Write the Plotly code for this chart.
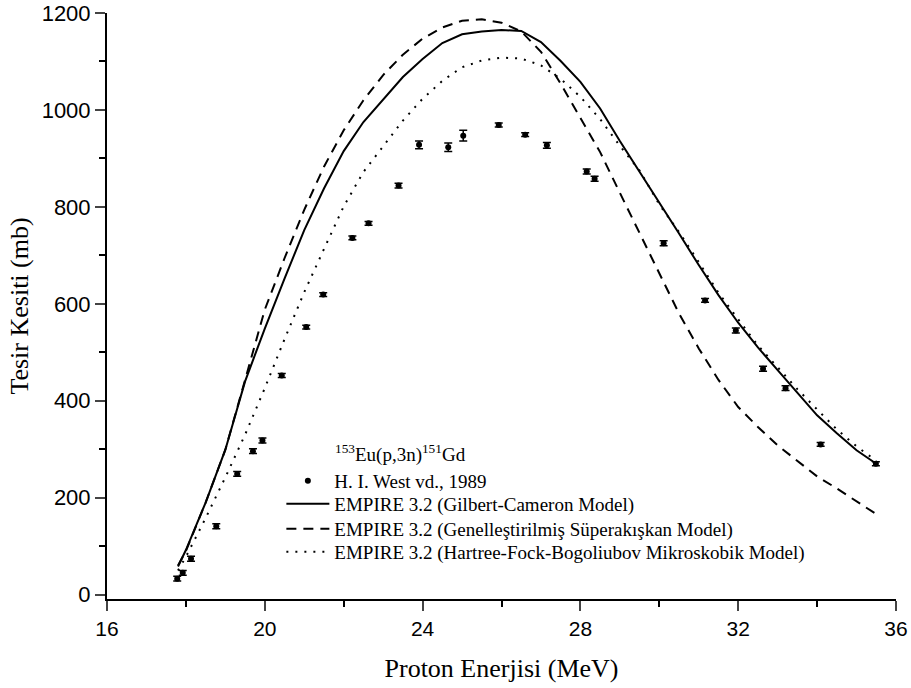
import plotly.graph_objects as go

# H. I. West vd., 1989 - deney verileri
exp_energy = [17.78, 17.92, 18.13, 18.77, 19.30, 19.70, 19.94, 20.43, 21.05, 21.48,
              22.22, 22.63, 23.39, 23.91, 24.65, 25.03, 25.93, 26.60, 27.15, 28.16,
              28.36, 30.11, 31.16, 31.94, 32.63, 33.20, 34.09, 35.49]
exp_xs = [33, 45, 74, 141, 249, 296, 318, 452, 552, 619,
          736, 766, 844, 928, 923, 947, 969, 949, 927, 873,
          858, 725, 607, 545, 466, 426, 310, 270]
exp_err = [5, 5, 5, 5, 5, 5, 5, 4, 4, 4,
           4, 4, 5, 8, 9, 11, 4, 4, 6, 5,
           5, 5, 4, 5, 5, 5, 4, 4]

# EMPIRE 3.2 hesaplamalari
model_energy = [17.8, 18.0, 18.5, 19.0, 19.5, 20.0, 20.5, 21.0, 21.5, 22.0,
                22.5, 23.0, 23.5, 24.0, 24.5, 25.0, 25.5, 26.0, 26.5, 27.0,
                27.5, 28.0, 28.5, 29.0, 29.5, 30.0, 30.5, 31.0, 31.5, 32.0,
                32.5, 33.0, 33.5, 34.0, 34.5, 35.0, 35.5]
gc_xs = [58, 92, 190, 299, 440, 549, 652, 752, 838, 915,
         975, 1022, 1068, 1105, 1138, 1156, 1162, 1165, 1163, 1140,
         1101, 1058, 1003, 936, 873, 809, 745, 680, 618, 561,
         510, 463, 416, 370, 333, 298, 270]
gs_xs = [60, 90, 190, 299, 443, 588, 694, 794, 883, 958,
         1020, 1072, 1114, 1147, 1170, 1184, 1187, 1180, 1162, 1120,
         1054, 985, 913, 829, 746, 660, 580, 508, 443, 387,
         346, 308, 276, 244, 219, 193, 166]
hfb_xs = [50, 78, 158, 242, 330, 426, 527, 624, 713, 801,
          872, 925, 978, 1023, 1060, 1088, 1102, 1108, 1106, 1092,
          1064, 1027, 981, 926, 875, 805, 748, 686, 623, 568,
          514, 469, 424, 382, 341, 306, 276]

serif = 'Liberation Serif'
sans = 'Liberation Sans'

fig = go.Figure()

fig.add_trace(go.Scatter(
    x=exp_energy, y=exp_xs, mode='markers', name='H. I. West vd., 1989',
    marker=dict(color='black', size=6), legend='legend',
    error_y=dict(type='data', array=exp_err, color='black', thickness=1.5, width=4)))

fig.add_trace(go.Scatter(
    x=model_energy, y=gc_xs, mode='lines', name='EMPIRE 3.2 (Gilbert-Cameron Model)',
    line=dict(color='black', width=2), legend='legend2'))
fig.add_trace(go.Scatter(
    x=model_energy, y=gs_xs, mode='lines', name='EMPIRE 3.2 (Genelleştirilmiş Süperakışkan Model)',
    line=dict(color='black', width=2, dash='10px,7px'), legend='legend3'))
fig.add_trace(go.Scatter(
    x=model_energy, y=hfb_xs, mode='lines', name='EMPIRE 3.2 (Hartree-Fock-Bogoliubov Mikroskobik Model)',
    line=dict(color='black', width=2, dash='2px,7px'), legend='legend4'))

fig.add_annotation(
    x=0.2866, y=0.248, xref='paper', yref='paper', xanchor='left', yanchor='middle',
    text='<sup>153</sup>Eu(p,3n)<sup>151</sup>Gd', showarrow=False,
    font=dict(family=serif, size=19, color='black'))


def legend_box(y):
    return dict(x=0.221, y=y, xanchor='left', yanchor='middle',
                font=dict(family=serif, size=19, color='black'),
                bgcolor='rgba(0,0,0,0)', itemwidth=43, itemsizing='trace')


fig.update_layout(
    width=911, height=688,
    margin=dict(l=107, r=15, t=13, b=89),
    plot_bgcolor='white', paper_bgcolor='white',
    showlegend=True,
    legend=legend_box(0.2014),
    legend2=legend_box(0.1621),
    legend3=legend_box(0.1195),
    legend4=legend_box(0.0802),
    font=dict(family=sans, color='black'))

fig.update_xaxes(
    range=[16, 36], tick0=16, dtick=4, ticks='outside', ticklen=10, tickwidth=2,
    showline=True, linewidth=2, linecolor='black', showgrid=False, zeroline=False,
    automargin=False, ticklabeloverflow='allow',
    tickfont=dict(family=sans, size=21, color='black'),
    minor=dict(dtick=2, ticks='outside', ticklen=6, tickwidth=2, tickcolor='black'),
    title=dict(text='Proton Enerjisi (MeV)', standoff=20,
               font=dict(family=serif, size=26, color='black')))
fig.update_yaxes(
    range=[-9, 1200], tick0=0, dtick=200, ticks='outside', ticklen=10, tickwidth=2,
    showline=True, linewidth=2, linecolor='black', showgrid=False, zeroline=False,
    automargin=False, ticklabeloverflow='allow',
    tickfont=dict(family=sans, size=22, color='black'),
    minor=dict(dtick=100, ticks='outside', ticklen=6, tickwidth=2, tickcolor='black'),
    title=dict(text='Tesir Kesiti (mb)', standoff=6,
               font=dict(family=serif, size=26, color='black')))

# drop the default page margin so the figure sits at the window's corner
fig.write_html('out.html', config={'displayModeBar': False},
               post_script="document.body.style.margin='0';document.body.style.overflow='hidden';")
